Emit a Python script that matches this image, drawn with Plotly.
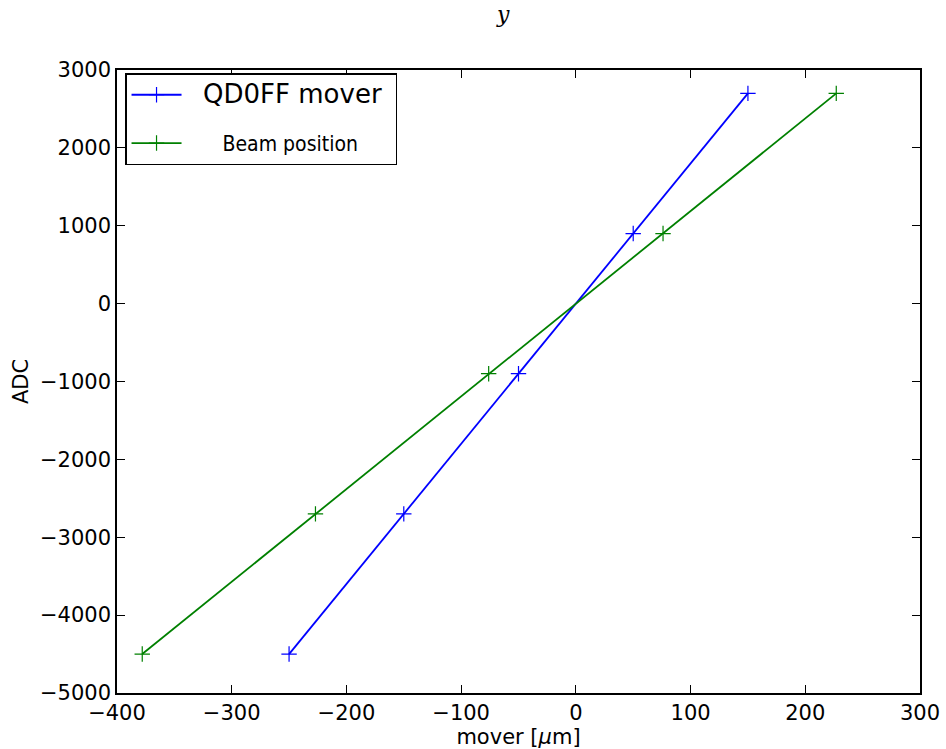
import plotly.graph_objects as go

mover_x = [-250, -150, -50, 50, 150]
mover_y = [-4500, -2700, -900, 900, 2700]
beam_x = [-378, -227, -76, 76, 227]
beam_y = [-4500, -2700, -900, 900, 2700]

x_ticks = [-400, -300, -200, -100, 0, 100, 200, 300]
y_ticks = [-5000, -4000, -3000, -2000, -1000, 0, 1000, 2000, 3000]

def lab(v):
    return str(v).replace("-", "\u2212")

fig = go.Figure()
fig.add_trace(go.Scatter(
    x=mover_x, y=mover_y, mode="lines+markers",
    name='<span style="font-size:26px;font-family:DejaVu Sans">  QD0FF mover </span>',
    legendgroup="a",
    line=dict(color="#0000ff", width=1.8),
    marker=dict(symbol="cross-thin", size=11, line=dict(color="#0000ff", width=1.2)),
))
fig.add_trace(go.Scatter(
    x=beam_x, y=beam_y, mode="lines+markers",
    name="      Beam position",
    legendgroup="b",
    line=dict(color="#008000", width=1.8),
    marker=dict(symbol="cross-thin", size=11, line=dict(color="#008000", width=1.2)),
))

axis_common = dict(
    showgrid=False, zeroline=False, showline=True, linecolor="black", linewidth=1.5,
    mirror="allticks", ticks="inside", ticklen=8, tickwidth=1, tickcolor="black",
    automargin=False,
)
fig.update_xaxes(
    range=[-400, 300], tickvals=x_ticks, ticktext=[lab(v) for v in x_ticks],
    tickfont=dict(family="DejaVu Sans", size=21, color="black"),
    title=dict(text="mover [<i>μ</i>m]", font=dict(family="DejaVu Sans", size=21, color="black"), standoff=4),
    **axis_common,
)
fig.update_yaxes(
    range=[-5000, 3000], tickvals=y_ticks, ticktext=[lab(v) for v in y_ticks],
    tickfont=dict(family="DejaVu Sans", size=21, color="black"),
    title=dict(text="ADC", font=dict(family="DejaVu Sans", size=21, color="black"), standoff=6),
    **axis_common,
)

fig.add_annotation(
    text="<i>y</i>", xref="paper", yref="paper", x=0.481, y=1.0, yshift=56,
    showarrow=False, font=dict(family="DejaVu Serif", size=22, color="black"),
    xanchor="center", yanchor="middle",
)

fig.update_layout(
    width=946, height=749,
    margin=dict(l=117, r=26, t=70, b=56),
    plot_bgcolor="white", paper_bgcolor="white",
    font=dict(family="DejaVu Sans", color="black"),
    legend=dict(
        x=0.01, y=0.995, xanchor="left", yanchor="top",
        bordercolor="black", borderwidth=1.5, bgcolor="white",
        font=dict(family="DejaVu Sans Condensed, DejaVu Sans", size=21, color="black"),
        tracegroupgap=18,
        itemwidth=50,
    ),
    showlegend=True,
)

fig.write_html("out.html")
